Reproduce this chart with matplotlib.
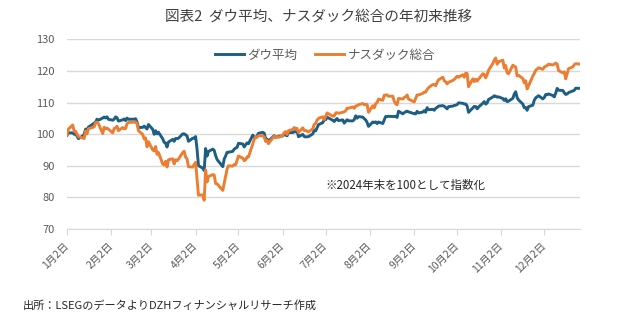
import numpy as np
import pandas as pd
import matplotlib
matplotlib.use("Agg")
import matplotlib.pyplot as plt
import matplotlib.dates as mdates

plt.rcParams['font.family'] = ['Noto Sans CJK JP', 'DejaVu Sans']

# NYSE holidays in 2025 (incl. the Jan 9 closure)
holidays = ["2025-01-01", "2025-01-09", "2025-01-20", "2025-02-17", "2025-04-18",
            "2025-05-26", "2025-06-19", "2025-07-04", "2025-09-01", "2025-11-27",
            "2025-12-25"]
trade_days = pd.bdate_range("2025-01-02", "2025-12-26", freq="C", holidays=holidays)

# index, end of 2024 = 100
dow = [
    # Jan
    99.64, 100.44, 100.38, 99.96, 100.21, 98.58, 99.42, 99.94, 101.59, 101.43,
    102.22, 103.48, 103.79, 104.75, 104.42, 105.10, 105.42, 105.10, 105.50, 104.70,
    # Feb
    104.41, 104.73, 105.47, 105.18, 104.13, 104.53, 104.82, 104.29, 105.09, 104.71,
    104.73, 104.90, 103.84, 102.08, 102.15, 102.53, 102.09, 101.63, 103.05,
    # Mar
    101.52, 99.95, 101.09, 100.08, 100.61, 98.51, 97.39, 97.19, 95.93, 97.52,
    98.35, 97.74, 98.64, 98.61, 98.69, 100.09, 100.10, 99.79, 99.43, 97.74, 98.73,
    # Apr
    98.70, 99.25, 95.30, 90.06, 89.24, 88.49, 95.45, 93.07, 94.52, 95.26,
    94.88, 93.24, 92.00, 89.72, 92.11, 93.09, 94.24, 94.29, 94.56, 95.26, 95.59,
    # May
    95.79, 97.12, 96.89, 95.97, 96.64, 97.24, 96.96, 99.69, 99.05, 98.84,
    99.48, 100.26, 100.58, 100.31, 98.39, 98.39, 97.79, 99.53, 98.95, 99.23, 99.36,
    # Jun
    99.44, 99.94, 99.72, 99.47, 100.51, 100.51, 100.76, 100.76, 101.00, 99.19,
    99.93, 99.23, 99.13, 99.21, 100.09, 101.28, 101.03, 101.98, 103.00, 103.65,
    # Jul
    104.59, 104.56, 105.37, 104.38, 103.99, 104.50, 104.95, 104.29, 104.50, 103.48,
    104.02, 104.56, 104.23, 104.18, 104.60, 105.80, 105.05, 105.54, 105.39, 104.91,
    104.51, 103.73,
    # Aug
    102.46, 103.83, 103.69, 103.88, 103.35, 103.84, 103.36, 104.50, 105.59, 105.56,
    105.65, 105.57, 105.59, 105.63, 105.27, 107.26, 106.43, 106.76, 107.10, 107.27,
    107.05,
    # Sep
    106.47, 106.41, 107.23, 106.72, 106.98, 107.44, 106.93, 108.38, 107.73, 107.85,
    107.55, 108.17, 108.46, 108.86, 109.02, 108.81, 108.41, 108.00, 108.70, 108.87,
    109.06,
    # Oct
    109.16, 109.34, 109.90, 109.76, 109.54, 109.54, 108.96, 106.90, 108.28, 108.76,
    108.72, 108.01, 108.57, 109.79, 110.30, 109.51, 109.85, 110.96, 111.75, 112.13,
    111.96, 111.70, 111.80,
    # Nov
    111.27, 110.67, 111.20, 110.27, 110.44, 111.34, 112.65, 113.42, 111.55, 110.82,
    109.51, 108.34, 108.45, 107.54, 108.70, 109.18, 110.74, 111.48, 112.16,
    # Dec
    111.15, 111.59, 112.55, 112.47, 112.72, 112.21, 111.79, 112.96, 114.48, 113.90,
    113.80, 113.09, 112.56, 112.71, 113.14, 113.68, 113.86, 114.54, 114.49,
]

nasdaq = [
    # Jan
    99.8, 101.6, 102.9, 100.9, 100.9, 99.2, 98.8, 98.6, 101.0, 100.1,
    101.7, 102.3, 103.6, 103.8, 103.3, 100.2, 102.2, 101.7, 101.9, 101.6,
    # Feb
    100.4, 101.8, 102.0, 102.5, 101.1, 102.1, 101.7, 101.8, 103.3, 103.7,
    103.8, 103.9, 103.4, 101.1, 99.9, 98.5, 98.8, 96.0, 97.6,
    # Mar
    95.0, 94.7, 96.1, 93.6, 94.2, 90.5, 90.3, 91.4, 89.6, 91.9,
    92.2, 90.6, 91.9, 91.6, 92.1, 94.2, 94.6, 92.7, 92.2, 89.7, 89.6,
    # Apr
    90.4, 91.1, 85.7, 80.7, 80.8, 79.1, 88.7, 84.9, 86.6, 87.2,
    87.1, 84.4, 84.3, 82.2, 84.4, 86.5, 88.9, 90.0, 89.9, 90.4, 90.3,
    # May
    91.7, 93.1, 92.4, 91.6, 91.9, 92.8, 92.8, 96.9, 98.4, 99.1,
    99.0, 99.5, 99.5, 99.1, 97.7, 98.0, 97.0, 99.4, 98.9, 99.3, 99.0,
    # Jun
    99.6, 100.5, 100.8, 99.9, 101.1, 101.5, 102.1, 101.6, 101.8, 100.5,
    102.0, 101.1, 101.2, 100.7, 101.7, 103.1, 103.4, 104.4, 105.0, 105.5,
    # Jul
    104.6, 105.6, 106.7, 105.7, 105.7, 106.7, 106.8, 106.6, 106.9, 107.1,
    107.4, 108.2, 108.2, 108.6, 108.2, 108.9, 109.0, 109.3, 109.7, 109.3,
    109.4, 109.4,
    # Aug
    106.9, 109.0, 108.3, 109.6, 110.0, 111.1, 110.7, 112.3, 112.4, 112.4,
    112.0, 112.0, 110.4, 109.6, 109.3, 111.3, 111.1, 111.6, 111.8, 112.4,
    111.1,
    # Sep
    110.2, 111.3, 112.4, 112.4, 112.9, 113.3, 113.3, 114.1, 114.7, 115.7,
    115.7, 115.3, 116.4, 117.2, 118.0, 116.9, 116.5, 115.9, 116.4, 117.0,
    117.3,
    # Oct
    117.8, 118.3, 118.0, 118.8, 118.0, 119.3, 119.2, 115.0, 117.5, 116.6,
    117.4, 116.8, 117.4, 119.1, 118.9, 117.8, 118.8, 120.2, 122.4, 123.4,
    124.1, 122.1, 122.9,
    # Nov
    123.4, 120.9, 121.7, 119.4, 119.1, 121.8, 121.5, 121.2, 118.4, 118.6,
    117.6, 116.2, 116.9, 114.3, 115.3, 118.4, 119.2, 120.2, 121.0,
    # Dec
    120.5, 121.2, 121.5, 121.7, 122.1, 121.9, 122.1, 122.5, 122.2, 120.1,
    119.4, 119.7, 117.5, 119.1, 120.7, 121.3, 122.0, 122.3, 122.2,
]

assert len(dow) == len(trade_days) == len(nasdaq)

tick_dates = pd.date_range("2025-01-02", periods=12, freq=pd.DateOffset(months=1))
tick_labels = [f"{d.month}月2日" for d in tick_dates]
y_ticks = [70, 80, 90, 100, 110, 120, 130]

blue = "#1D5E85"
orange = "#ED7D31"
grid_c = "#D9D9D9"
text_c = "#595959"

fig = plt.figure(figsize=(6.4, 3.31), dpi=100)
ax = fig.add_axes([67 / 640, 1 - 229 / 331, (580 - 67) / 640, (229 - 39.3) / 331])

ax.plot(trade_days, dow, color=blue, lw=2.1, label="ダウ平均", solid_joinstyle="round")
ax.plot(trade_days, nasdaq, color=orange, lw=2.1, label="ナスダック総合", solid_joinstyle="round")

ax.set_ylim(70, 130)
ax.set_yticks(y_ticks)
ax.set_xlim(pd.Timestamp("2025-01-02"), pd.Timestamp("2025-12-27"))
ax.set_xticks(tick_dates)
ax.set_xticklabels(tick_labels, rotation=45, ha="right", va="center",
                   rotation_mode="anchor")

ax.grid(axis="y", color=grid_c, lw=1)
ax.set_axisbelow(True)
for s in ["top", "right", "left"]:
    ax.spines[s].set_visible(False)
ax.spines["bottom"].set_color(grid_c)
ax.tick_params(axis="y", length=0, pad=9, labelsize=8, labelcolor=text_c)
ax.tick_params(axis="x", length=4, color=grid_c, pad=7, labelsize=7.5, labelcolor=text_c)

fig.legend(loc="center", bbox_to_anchor=(0.508, 1 - 55 / 331), ncol=2, frameon=False,
           fontsize=9, handlelength=2.3, handletextpad=0.3, columnspacing=1.4,
           labelcolor=text_c)

fig.text(0.497, 1 - 17 / 331, "図表2  ダウ平均、ナスダック総合の年初来推移",
         ha="center", va="center", fontsize=10.5, color="#404040")
fig.text(325 / 640, 1 - 185 / 331, "※2024年末を100として指数化",
         ha="left", va="center", fontsize=8.3, color="#262626")
fig.text(23 / 640, 1 - 305 / 331, "出所：LSEGのデータよりDZHフィナンシャルリサーチ作成",
         ha="left", va="center", fontsize=8, color="#262626")

fig.savefig("out.png", dpi=100)
